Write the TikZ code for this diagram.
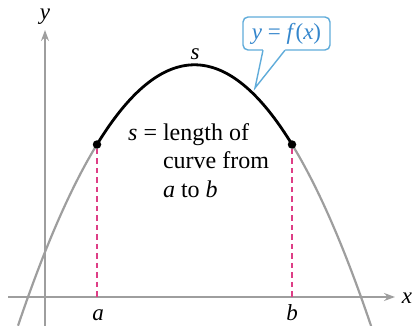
\documentclass[tikz,border=0pt]{standalone}
\usepackage{fontspec}
\setmainfont{Liberation Serif}
\newfontfamily\tms{Liberation Serif}
\usetikzlibrary{arrows.meta}
\definecolor{axisgray}{RGB}{158,158,158}
\definecolor{dashmag}{RGB}{222,62,134}
\definecolor{callblue}{RGB}{96,172,218}
\definecolor{calltext}{RGB}{52,134,204}
\begin{document}
\begin{tikzpicture}[x=1pt,y=-1pt,
  axis/.style={draw=axisgray,line width=1.6pt,-{Stealth[length=11pt,width=8pt]}},
  graycurve/.style={draw=axisgray,line width=2.2pt},
  blackcurve/.style={draw=black,line width=2.8pt},
  endpt/.style={circle,fill=black,inner sep=0pt,minimum size=8.5pt},
  dropline/.style={draw=dashmag,line width=2.2pt,dash pattern=on 5.5pt off 4pt},
  lbl/.style={font=\tms\fontsize{23}{26}\selectfont\itshape,inner sep=0pt},
  bodytext/.style={font=\tms\fontsize{24}{28.5}\selectfont,inner sep=0pt},
  callbox/.style={draw=callblue,line width=1.4pt,rounded corners=5pt,fill=white,
    minimum width=87pt,minimum height=33pt,inner sep=0pt,text=calltext,
    font=\tms\fontsize{23}{26}\selectfont}]
\useasboundingbox (0,0) rectangle (412,326);
% axes
\coordinate (xs) at (8,297);
\coordinate (xe) at (395,297);
\coordinate (ys) at (45,326);
\coordinate (ye) at (45,30);
\draw[axis] (xs) -- (xe);
\draw[axis] (ys) -- (ye);
\node[lbl,anchor=base] (xl) at (407,303) {x};
\node[lbl,anchor=base] (yl) at (45,20) {y};
% curve y = 64.8 + (0.091526 (x-194.5))^2
\draw[graycurve] plot[domain=18:97,samples=40,smooth] (\x,{64.8+(0.091526*(\x-194.5))^2});
\draw[graycurve] plot[domain=292:371.2,samples=40,smooth] (\x,{64.8+(0.091526*(\x-194.5))^2});
\draw[blackcurve] plot[domain=97:292,samples=80,smooth] (\x,{64.8+(0.091526*(\x-194.5))^2});
% end points and drop lines
\node[endpt] (A) at (97,144.5) {};
\node[endpt] (B) at (292,144.5) {};
\coordinate (A0) at (97,297);
\coordinate (B0) at (292,297);
\draw[dropline] (A) -- (A0);
\draw[dropline] (B) -- (B0);
\node[lbl,anchor=base] (al) at (98,320) {a};
\node[lbl,anchor=base] (bl) at (292,320) {b};
% labels
\node[lbl,anchor=base] (sl) at (195,60) {s};
\node[bodytext,anchor=base west] (desc) at (128,140) {%
  \begin{tabular}[t]{@{}r@{}l@{}}
  \textit{s} =\ \mbox{} & length of\\
  & curve from\\
  & \textit{a} to \textit{b}
  \end{tabular}};
% callout
\node[callbox] (fx) at (286.5,33.5) {\textit{y} = \textit{f}(\textit{x})};
\coordinate (tip) at (255,88);
\fill[white] (263,48) -- (263,50.5) -- (tip) -- (285,50.5) -- (285,48) -- cycle;
\draw[callblue,line width=1.4pt,line join=miter] (263,50.2) -- (tip) -- (285,50.2);
\end{tikzpicture}
\end{document}
